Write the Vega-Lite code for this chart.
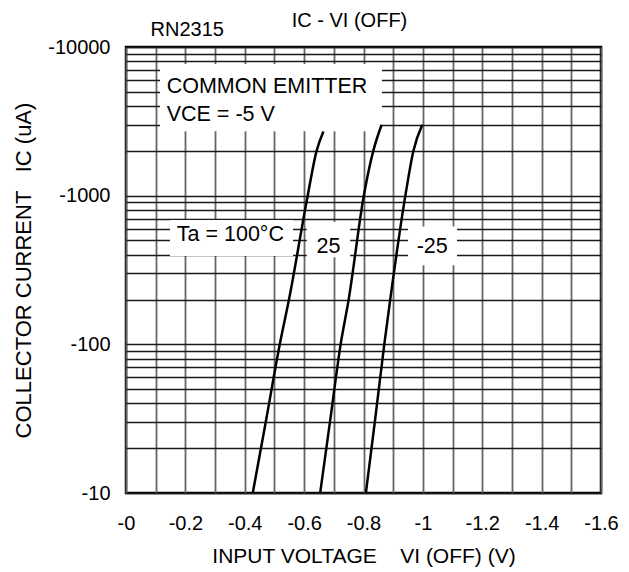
{
  "$schema": "https://vega.github.io/schema/vega-lite/v6.json",
  "width": 475,
  "height": 446,
  "autosize": "none",
  "padding": {"left": 126, "top": 47, "right": 28, "bottom": 79},
  "background": "white",
  "config": {
    "font": "Liberation Sans",
    "view": {"stroke": "black", "strokeWidth": 2.5},
    "axis": {"labelColor": "black", "titleColor": "black", "labelFont": "Liberation Sans", "titleFont": "Liberation Sans", "titleFontWeight": "normal"}
  },
  "title": {"text": "IC - VI (OFF)", "anchor": "middle", "dx": -14, "offset": -12, "fontSize": 20, "fontWeight": "normal", "color": "black", "font": "Liberation Sans"},
  "datasets": {
    "curves": [
      {"ta": "100", "v": 0.427, "ic": 10},
      {"ta": "100", "v": 0.472, "ic": 31},
      {"ta": "100", "v": 0.518, "ic": 100},
      {"ta": "100", "v": 0.549, "ic": 200},
      {"ta": "100", "v": 0.612, "ic": 1000},
      {"ta": "100", "v": 0.642, "ic": 2000},
      {"ta": "100", "v": 0.665, "ic": 2700},
      {"ta": "25", "v": 0.654, "ic": 10},
      {"ta": "25", "v": 0.688, "ic": 31},
      {"ta": "25", "v": 0.723, "ic": 100},
      {"ta": "25", "v": 0.750, "ic": 200},
      {"ta": "25", "v": 0.801, "ic": 1000},
      {"ta": "25", "v": 0.833, "ic": 2000},
      {"ta": "25", "v": 0.861, "ic": 3000},
      {"ta": "-25", "v": 0.808, "ic": 10},
      {"ta": "-25", "v": 0.839, "ic": 31},
      {"ta": "-25", "v": 0.870, "ic": 100},
      {"ta": "-25", "v": 0.890, "ic": 200},
      {"ta": "-25", "v": 0.941, "ic": 1000},
      {"ta": "-25", "v": 0.968, "ic": 2000},
      {"ta": "-25", "v": 0.998, "ic": 3000}
    ],
    "boxes": [
      {"v1": 0.1145, "v2": 0.862, "i1": 2716, "i2": 7674},
      {"v1": 0.148, "v2": 0.5625, "i1": 393, "i2": 686},
      {"v1": 0.609, "v2": 0.755, "i1": 386, "i2": 664},
      {"v1": 0.95, "v2": 1.115, "i1": 340, "i2": 620}
    ],
    "labels": [
      {"v": 0.137, "ic": 4920, "label": "COMMON EMITTER"},
      {"v": 0.137, "ic": 3190, "label": "VCE = -5 V"},
      {"v": 0.171, "ic": 498, "label": "Ta = 100°C"},
      {"v": 0.642, "ic": 411, "label": "25"},
      {"v": 0.979, "ic": 411, "label": "-25"}
    ]
  },
  "layer": [
    {
      "data": {"name": "boxes"},
      "mark": {"type": "rect", "fill": "white", "strokeWidth": 0},
      "encoding": {
        "x": {
          "field": "v1", "type": "quantitative",
          "scale": {"domain": [0, 1.6], "nice": false, "zero": false},
          "axis": {
            "orient": "bottom",
            "values": [0, 0.1, 0.2, 0.3, 0.4, 0.5, 0.6, 0.7, 0.8, 0.9, 1, 1.1, 1.2, 1.3, 1.4, 1.5, 1.6],
            "labelExpr": "round(datum.value*10) % 2 == 0 ? (datum.value == 0 ? '-0' : '-' + format(datum.value, '~g')) : ''",
            "title": "INPUT VOLTAGE\u00a0\u00a0\u00a0\u00a0VI (OFF) (V)",
            "grid": true, "gridColor": "#666666", "gridWidth": 1.8, "gridOpacity": 1,
            "ticks": false, "domain": false,
            "labelFontSize": 20, "labelPadding": 20, "labelFlush": false, "labelOverlap": false,
            "titleFontSize": 21, "titlePadding": 12
          }
        },
        "x2": {"field": "v2"},
        "y": {
          "field": "i1", "type": "quantitative",
          "scale": {"type": "log", "domain": [10, 10000], "nice": false},
          "axis": {
            "values": [10, 20, 30, 40, 50, 60, 70, 80, 90, 100, 200, 300, 400, 500, 600, 700, 800, 900, 1000, 2000, 3000, 4000, 5000, 6000, 7000, 8000, 9000, 10000],
            "labelExpr": "(datum.value == 10 || datum.value == 100 || datum.value == 1000 || datum.value == 10000) ? '-' + datum.value : ''",
            "title": "COLLECTOR CURRENT\u00a0\u00a0\u00a0IC (uA)",
            "grid": true, "gridColor": "#1a1a1a", "gridWidth": 1.3, "gridOpacity": 1,
            "ticks": false, "domain": false,
            "labelFontSize": 20, "labelPadding": 16, "labelOverlap": false, "labelFlush": false,
            "titleFontSize": 22, "titlePadding": 12
          }
        },
        "y2": {"field": "i2"}
      }
    },
    {
      "data": {"name": "curves"},
      "mark": {"type": "line", "stroke": "black", "strokeWidth": 2.5, "interpolate": "monotone"},
      "encoding": {
        "x": {"field": "v", "type": "quantitative", "axis": null},
        "y": {"field": "ic", "type": "quantitative"},
        "detail": {"field": "ta"},
        "order": {"field": "v"}
      }
    },
    {
      "data": {"name": "labels"},
      "mark": {"type": "text", "align": "left", "baseline": "alphabetic", "fontSize": 21.5, "color": "black", "font": "Liberation Sans"},
      "encoding": {
        "x": {
          "field": "v", "type": "quantitative",
          "axis": {"orient": "top", "title": "RN2315", "labels": false, "ticks": false, "domain": false, "grid": false,
                   "titleX": 24, "titleY": -12, "titleAlign": "left", "titleBaseline": "alphabetic", "titleFontSize": 20, "titleAngle": 0}
        },
        "y": {"field": "ic", "type": "quantitative"},
        "text": {"field": "label"}
      }
    }
  ],
  "resolve": {"axis": {"x": "independent"}}
}
